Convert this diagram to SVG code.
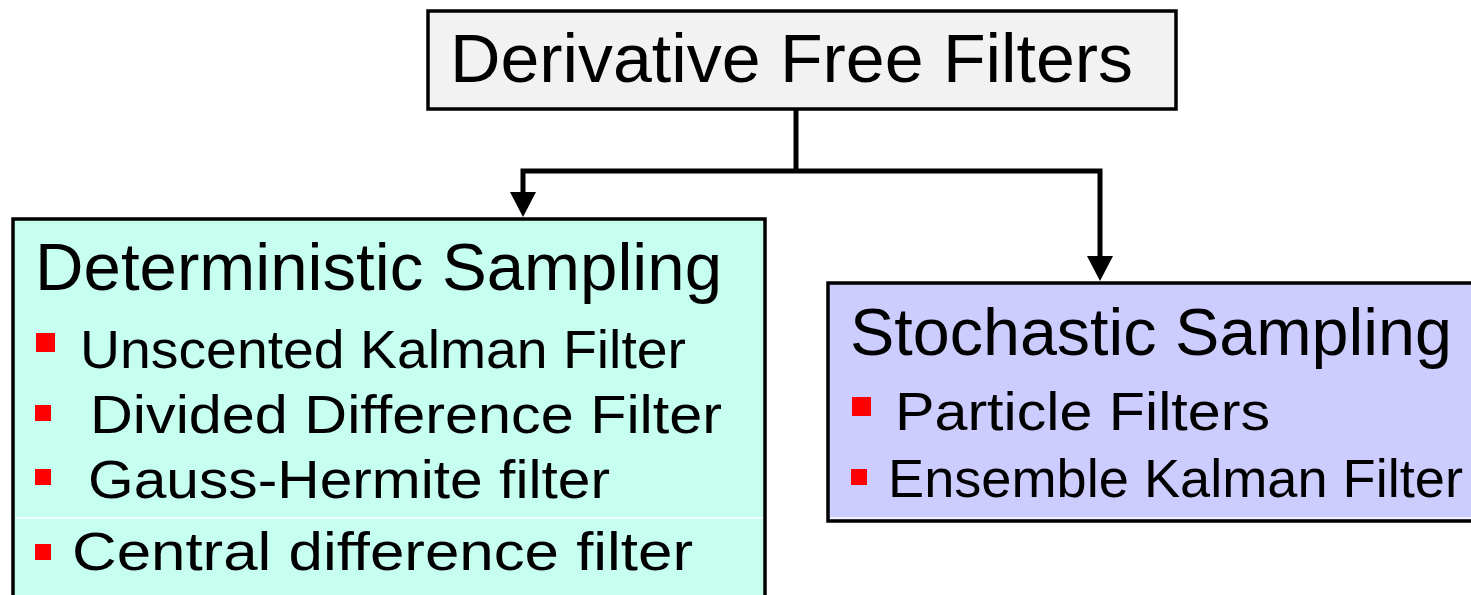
<svg xmlns="http://www.w3.org/2000/svg" width="1471" height="595" viewBox="0 0 1471 595">
<style>
text{font-family:"Liberation Sans","DejaVu Sans",sans-serif;fill:#000}
.box{stroke:#000;stroke-width:3.5}
.title{font-size:66px}
.item{font-size:54px}
.bullet{fill:#ff0000}
.conn{fill:none;stroke:#000;stroke-width:5}
.sep{stroke:#ffffff;stroke-width:1.5}
</style>
<rect width="1471" height="595" fill="#fff"/>
<g id="connectors">
<line class="conn" x1="796" y1="110" x2="796" y2="171"/>
<polyline class="conn" points="523,195 523,171 1100,171 1100,258"/>
<path d="M510,192 L536,192 L523,217 Z" fill="#000"/>
<path d="M1087,256 L1113,256 L1100,281 Z" fill="#000"/>
</g>
<g id="root">
<rect class="box" x="428" y="11" width="748" height="98" fill="#f2f2f2"/>
<text x="450" y="82" style="font-size:68px" textLength="683" lengthAdjust="spacingAndGlyphs">Derivative Free Filters</text>
</g>
<g id="deterministic">
<rect class="box" x="13" y="219" width="752" height="390" fill="#c6fff0"/>
<line class="sep" x1="15" y1="518" x2="763" y2="518"/>
<text class="title" x="35" y="290" textLength="687" lengthAdjust="spacingAndGlyphs">Deterministic Sampling</text>
<rect class="bullet" x="36" y="333" width="19" height="19"/>
<text class="item" x="80" y="368" textLength="606" lengthAdjust="spacingAndGlyphs">Unscented Kalman Filter</text>
<rect class="bullet" x="35" y="405" width="16" height="16"/>
<text class="item" x="90" y="433" textLength="632" lengthAdjust="spacingAndGlyphs">Divided Difference Filter</text>
<rect class="bullet" x="35" y="469" width="16" height="16"/>
<text class="item" x="88" y="498" textLength="522" lengthAdjust="spacingAndGlyphs">Gauss-Hermite filter</text>
<rect class="bullet" x="35" y="544" width="16" height="16"/>
<text class="item" x="72" y="570" textLength="621" lengthAdjust="spacingAndGlyphs">Central difference filter</text>
</g>
<g id="stochastic">
<rect class="box" x="828" y="283" width="660" height="238" fill="#ccccff"/>
<line class="sep" x1="830" y1="518" x2="1471" y2="518"/>
<text class="title" x="850" y="355" textLength="602" lengthAdjust="spacingAndGlyphs">Stochastic Sampling</text>
<rect class="bullet" x="852" y="397" width="19" height="19"/>
<text class="item" x="895" y="430" textLength="375" lengthAdjust="spacingAndGlyphs">Particle Filters</text>
<rect class="bullet" x="851" y="469" width="16" height="16"/>
<text class="item" x="888" y="497" textLength="575" lengthAdjust="spacingAndGlyphs">Ensemble Kalman Filter</text>
</g>
</svg>
